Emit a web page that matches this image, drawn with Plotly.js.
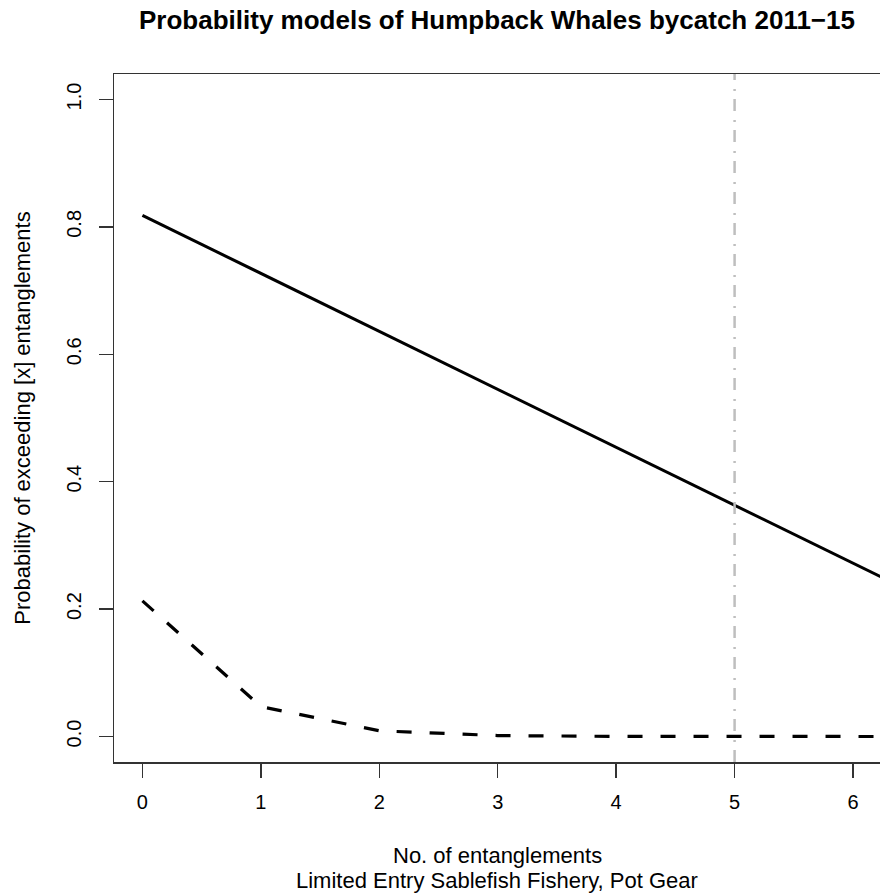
<!DOCTYPE html>
<html>
<head>
<meta charset="utf-8">
<script src="https://cdn.plot.ly/plotly-3.0.1.min.js"></script>
<style>
html, body { margin: 0; padding: 0; overflow: hidden; background: #fff; }
#chart { width: 890px; height: 894px; }
</style>
</head>
<body>
<div id="chart"></div>
<script>
// Data
const entanglements = [0, 1, 2, 3, 4, 5, 6, 7];
const probSolid = [0.818, 0.727, 0.636, 0.545, 0.454, 0.363, 0.272, 0.181];
const probDashed = [0.213, 0.047, 0.009, 0.0015, 0.0002, 0.00003, 0.0, 0.0];
const refLineX = 5;
const xTickVals = [0, 1, 2, 3, 4, 5, 6];
const xTickText = ["0", "1", "2", "3", "4", "5", "6"];
const yTickVals = [0, 0.2, 0.4, 0.6, 0.8, 1.0];
const yTickText = ["0.0", "0.2", "0.4", "0.6", "0.8", "1.0"];

const FONT = "Liberation Sans, Arial, Helvetica, sans-serif";

const traces = [
  {
    x: entanglements, y: probSolid, type: "scatter", mode: "lines",
    name: "Model 1",
    line: { color: "#000", width: 3, dash: "solid" },
    hoverinfo: "x+y"
  },
  {
    x: entanglements, y: probDashed, type: "scatter", mode: "lines",
    name: "Model 2",
    line: { color: "#000", width: 3.2, dash: "15px,18px" },
    hoverinfo: "x+y"
  }
];

const layout = {
  width: 890, height: 894,
  margin: { l: 114, r: 5, t: 74, b: 132 },
  paper_bgcolor: "#fff", plot_bgcolor: "#fff",
  showlegend: false,
  font: { family: FONT, color: "#000", size: 20 },
  title: {
    text: "<b>Probability models of Humpback Whales bycatch 2011\u221215</b>",
    font: { family: FONT, size: 26, color: "#000" },
    x: 497 / 890, xref: "container", xanchor: "center",
    y: 1 - 20 / 894, yref: "container", yanchor: "middle"
  },
  xaxis: {
    range: [-0.24, 6.27],
    tickmode: "array", tickvals: xTickVals, ticktext: xTickText,
    ticks: "outside", ticklen: 14, tickwidth: 1.5, tickcolor: "#333",
    showline: true, linecolor: "#333", linewidth: 1.5, mirror: true,
    showgrid: false, zeroline: false,
    tickfont: { family: FONT, size: 20, color: "#000" },
    ticklabelstandoff: 7
  },
  yaxis: {
    range: [-0.04, 1.04],
    tickmode: "array", tickvals: yTickVals, ticktext: yTickText,
    ticks: "outside", ticklen: 14, tickwidth: 1.5, tickcolor: "#333",
    showline: true, linecolor: "#333", linewidth: 1.5, mirror: true,
    showgrid: false, zeroline: false,
    tickangle: -90,
    tickfont: { family: FONT, size: 20, color: "#000" },
    ticklabelstandoff: 10,
    title: {
      text: "Probability of exceeding [x] entanglements",
      font: { family: FONT, size: 22, color: "#000" },
      standoff: 26
    }
  },
  shapes: [
    {
      type: "line", xref: "x", yref: "paper",
      x0: refLineX, x1: refLineX, y0: 0, y1: 1,
      line: { color: "#bebebe", width: 2.5, dash: "12px,8px,2px,9px" }
    }
  ],
  annotations: [
    {
      text: "No. of entanglements", xref: "paper", yref: "paper",
      x: (497 - 114) / 771, y: 0, xanchor: "center", yanchor: "middle", yshift: -93,
      showarrow: false, font: { family: FONT, size: 22, color: "#000" }
    },
    {
      text: "Limited Entry Sablefish Fishery, Pot Gear", xref: "paper", yref: "paper",
      x: (497 - 114) / 771, y: 0, xanchor: "center", yanchor: "middle", yshift: -118,
      showarrow: false, font: { family: FONT, size: 22, color: "#000" }
    }
  ]
};

Plotly.newPlot("chart", traces, layout, { displayModeBar: false, staticPlot: true });
</script>
</body>
</html>
